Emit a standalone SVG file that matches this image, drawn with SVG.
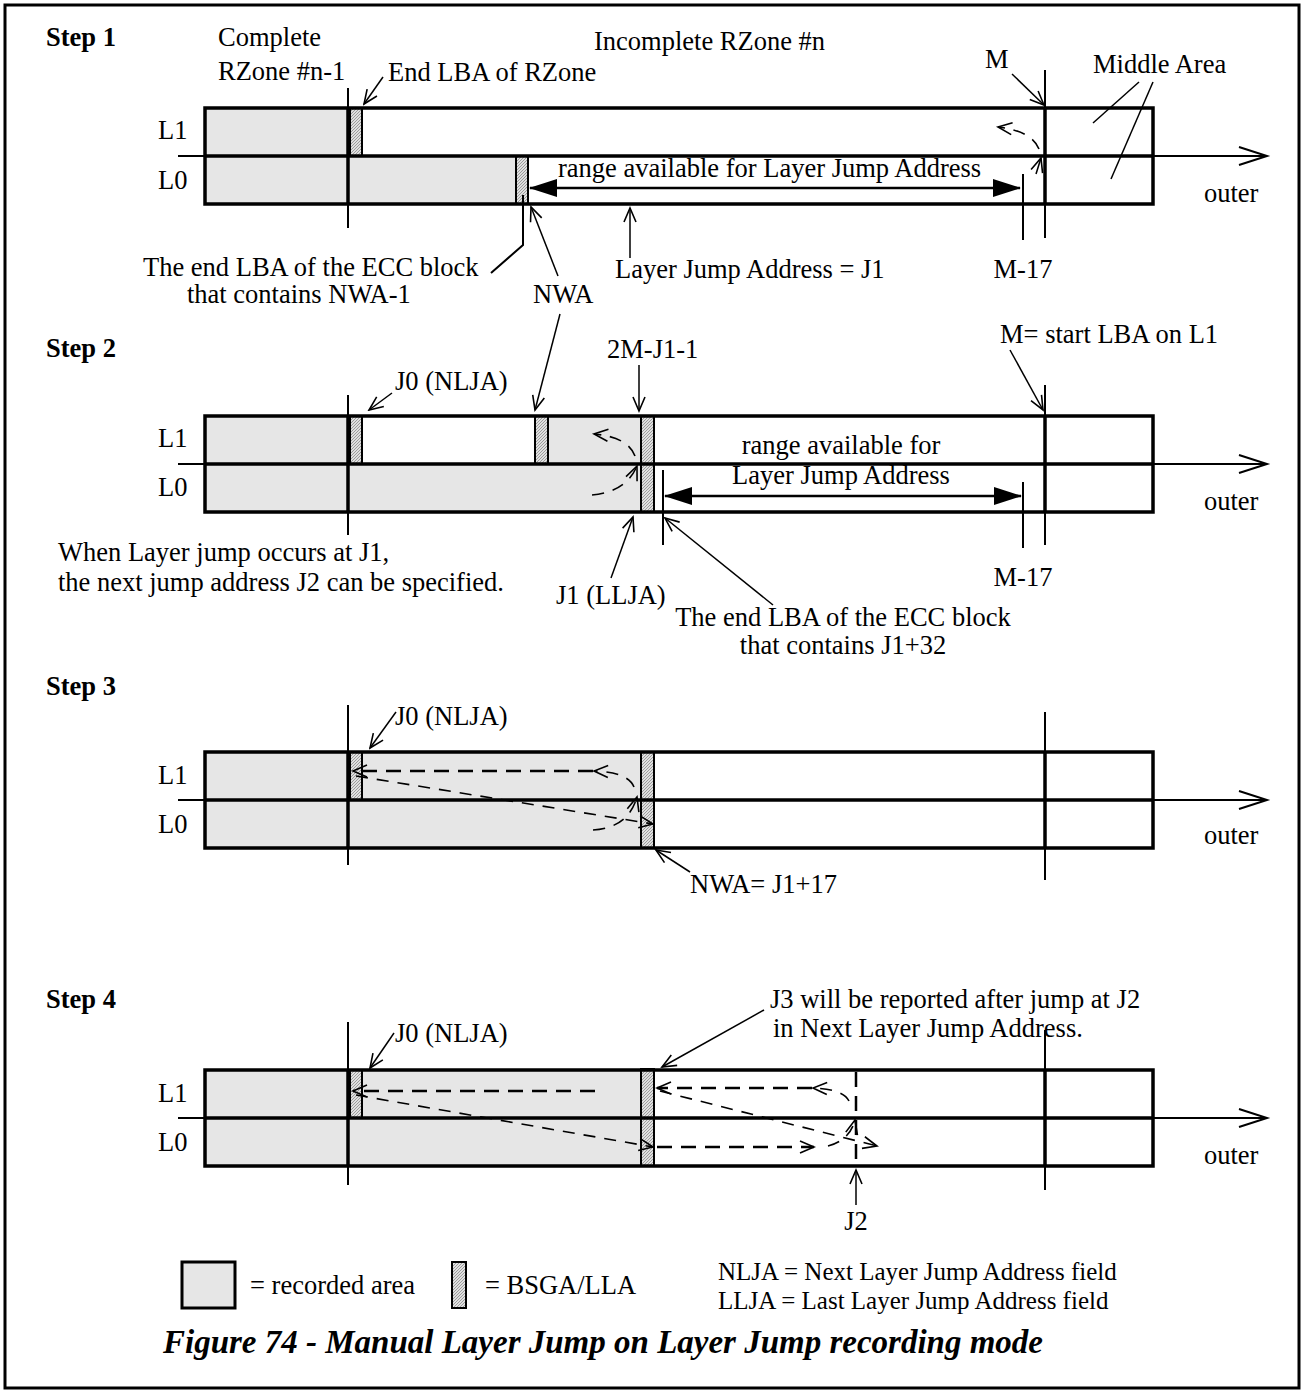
<svg xmlns="http://www.w3.org/2000/svg" width="1304" height="1393" viewBox="0 0 1304 1393">
<style>
.t{font-family:"Liberation Serif","Times New Roman",serif;font-size:26.5px;fill:#000}
.lg{font-size:25px}
.b{font-weight:bold}
.c{text-anchor:middle}
.title{font-family:"Liberation Serif","Times New Roman",serif;font-size:33px;font-weight:bold;font-style:italic;text-anchor:middle}
.grey{fill:#e6e6e6;stroke:none}
.hatch{fill:url(#hp);stroke:#000;stroke-width:2}
.box{fill:none;stroke:#000;stroke-width:3.5}
.thin{stroke:#000;stroke-width:2;fill:none}
.thick{stroke:#000;stroke-width:3.5;fill:none}
.lead{stroke:#000;stroke-width:1.5;fill:none}
.ar{marker-end:url(#oa)}
.dash{stroke:#000;stroke-width:1.6;fill:none;stroke-dasharray:12 9}
.dashb{stroke:#000;stroke-width:2.5;fill:none;stroke-dasharray:15 9}
.rng{stroke:#000;stroke-width:2.5;fill:none;marker-start:url(#fa);marker-end:url(#fa)}
</style>
<defs>
<pattern id="hp" patternUnits="userSpaceOnUse" width="3" height="3">
<rect width="3" height="3" fill="#e0e0e0"/>
<path d="M-1,1 L1,-1 M0,3 L3,0 M2,4 L4,2" stroke="#8a8a8a" stroke-width="0.8"/>
</pattern>
<marker id="oa" markerUnits="userSpaceOnUse" markerWidth="18" markerHeight="16" refX="16" refY="8" orient="auto" viewBox="0 0 18 16">
<path d="M2,2 L16,8 L2,14" fill="none" stroke="#000" stroke-width="1.6" stroke-dasharray="none"/>
</marker>
<marker id="fa" markerUnits="userSpaceOnUse" markerWidth="28" markerHeight="18" refX="27" refY="9" orient="auto-start-reverse" viewBox="0 0 28 18">
<path d="M0,0 L28,9 L0,18 z" fill="#000"/>
</marker>
</defs>
<rect x="5" y="5" width="1294" height="1383" fill="#fff" stroke="#000" stroke-width="3"/>

<!-- Step 1 -->
<g id="step1">
<text class="t b" x="46" y="46">Step 1</text>
<text class="t" x="218" y="46">Complete</text>
<text class="t" x="218" y="80">RZone #n-1</text>
<text class="t" x="594" y="50">Incomplete RZone #n</text>
<text class="t" x="388" y="81">End LBA of RZone</text>
<text class="t" x="985" y="68">M</text>
<text class="t" x="1093" y="73">Middle Area</text>
<text class="t" x="158" y="139">L1</text>
<text class="t" x="158" y="189">L0</text>
<text class="t" x="1204" y="202">outer</text>
<rect class="grey" x="205" y="108" width="145" height="48"/>
<rect class="grey" x="205" y="156" width="311" height="48"/>
<rect class="hatch" x="350" y="108" width="12" height="48"/>
<rect class="hatch" x="516" y="156" width="12" height="48"/>
<rect class="box" x="205" y="108" width="948" height="96"/>
<line class="thin" x1="178" y1="156" x2="1266" y2="156"/>
<line class="thick" x1="205" y1="156" x2="1153" y2="156"/>
<path class="thin" d="M1239,147 L1267,156 L1239,165"/>
<line class="thin" x1="348" y1="88" x2="348" y2="228"/>
<line class="thick" x1="348" y1="108" x2="348" y2="204"/>
<line class="thin" x1="1045" y1="70" x2="1045" y2="238"/>
<line class="thick" x1="1045" y1="108" x2="1045" y2="204"/>
<line class="thin" x1="1023" y1="174" x2="1023" y2="240"/>
<text class="t" x="558" y="177">range available for Layer Jump Address</text>
<text class="t" x="143" y="276">The end LBA of the ECC block</text>
<text class="t" x="187" y="303">that contains NWA-1</text>
<text class="t" x="615" y="278">Layer Jump Address = J1</text>
<text class="t c" x="1023" y="278">M-17</text>
<text class="t" x="533" y="303">NWA</text>
</g>

<!-- Step 2 -->
<g id="step2">
<text class="t b" x="46" y="357">Step 2</text>
<text class="t" x="1000" y="343">M= start LBA on L1</text>
<text class="t" x="607" y="358">2M-J1-1</text>
<text class="t" x="395" y="390">J0 (NLJA)</text>
<text class="t" x="158" y="447">L1</text>
<text class="t" x="158" y="496">L0</text>
<text class="t" x="1204" y="510">outer</text>
<rect class="grey" x="205" y="416" width="145" height="48"/>
<rect class="grey" x="548" y="416" width="93" height="48"/>
<rect class="grey" x="205" y="464" width="436" height="48"/>
<rect class="hatch" x="350" y="416" width="12" height="48"/>
<rect class="hatch" x="535" y="416" width="13" height="48"/>
<rect class="hatch" x="641" y="416" width="13" height="96"/>
<rect class="box" x="205" y="416" width="948" height="96"/>
<line class="thin" x1="178" y1="464" x2="1266" y2="464"/>
<line class="thick" x1="205" y1="464" x2="1153" y2="464"/>
<path class="thin" d="M1239,455 L1267,464 L1239,473"/>
<line class="thin" x1="348" y1="395" x2="348" y2="535"/>
<line class="thick" x1="348" y1="416" x2="348" y2="512"/>
<line class="thin" x1="1045" y1="385" x2="1045" y2="545"/>
<line class="thick" x1="1045" y1="416" x2="1045" y2="512"/>
<line class="thin" x1="1023" y1="482" x2="1023" y2="548"/>
<line class="thin" x1="663" y1="470" x2="663" y2="545"/>
<text class="t c" x="841" y="454">range available for</text>
<text class="t c" x="841" y="484">Layer Jump Address</text>
<text class="t" x="58" y="561">When Layer jump occurs at J1,</text>
<text class="t" x="58" y="591">the next jump address J2 can be specified.</text>
<text class="t" x="556" y="604">J1 (LLJA)</text>
<text class="t c" x="1023" y="586">M-17</text>
<text class="t c" x="843" y="626">The end LBA of the ECC block</text>
<text class="t c" x="843" y="654">that contains J1+32</text>
</g>

<!-- Step 3 -->
<g id="step3">
<text class="t b" x="46" y="695">Step 3</text>
<text class="t" x="395" y="725">J0 (NLJA)</text>
<text class="t" x="158" y="784">L1</text>
<text class="t" x="158" y="833">L0</text>
<text class="t" x="1204" y="844">outer</text>
<rect class="grey" x="205" y="752" width="436" height="96"/>
<rect class="hatch" x="350" y="752" width="12" height="48"/>
<rect class="hatch" x="641" y="752" width="13" height="96"/>
<rect class="box" x="205" y="752" width="948" height="96"/>
<line class="thin" x1="178" y1="800" x2="1266" y2="800"/>
<line class="thick" x1="205" y1="800" x2="1153" y2="800"/>
<path class="thin" d="M1239,791 L1267,800 L1239,809"/>
<line class="thin" x1="348" y1="705" x2="348" y2="865"/>
<line class="thick" x1="348" y1="752" x2="348" y2="848"/>
<line class="thin" x1="1045" y1="712" x2="1045" y2="880"/>
<line class="thick" x1="1045" y1="752" x2="1045" y2="848"/>
<text class="t" x="690" y="893">NWA= J1+17</text>
</g>

<!-- Step 4 -->
<g id="step4">
<text class="t b" x="46" y="1008">Step 4</text>
<text class="t" x="770" y="1008">J3 will be reported after jump at J2</text>
<text class="t" x="773" y="1037">in Next Layer Jump Address.</text>
<text class="t" x="395" y="1042">J0 (NLJA)</text>
<text class="t" x="158" y="1102">L1</text>
<text class="t" x="158" y="1151">L0</text>
<text class="t" x="1204" y="1164">outer</text>
<rect class="grey" x="205" y="1070" width="436" height="96"/>
<rect class="hatch" x="350" y="1070" width="12" height="48"/>
<rect class="hatch" x="641" y="1069" width="13" height="97"/>
<rect class="box" x="205" y="1070" width="948" height="96"/>
<line class="thin" x1="178" y1="1118" x2="1266" y2="1118"/>
<line class="thick" x1="205" y1="1118" x2="1153" y2="1118"/>
<path class="thin" d="M1239,1109 L1267,1118 L1239,1127"/>
<line class="thin" x1="348" y1="1022" x2="348" y2="1185"/>
<line class="thick" x1="348" y1="1070" x2="348" y2="1166"/>
<line class="thin" x1="1045" y1="1030" x2="1045" y2="1190"/>
<line class="thick" x1="1045" y1="1070" x2="1045" y2="1166"/>
<text class="t c" x="856" y="1230">J2</text>
</g>

<!-- Legend -->
<g id="legend">
<rect x="182" y="1262" width="53" height="46" fill="#e6e6e6" stroke="#000" stroke-width="3"/>
<text class="t" x="250" y="1294">= recorded area</text>
<rect class="hatch" x="452" y="1262" width="14" height="46"/>
<text class="t" x="485" y="1294">= BSGA/LLA</text>
<text class="t lg" x="718" y="1280">NLJA = Next Layer Jump Address field</text>
<text class="t lg" x="718" y="1309">LLJA = Last Layer Jump Address field</text>
</g>
<g id="caption">
<text class="title" x="603" y="1353">Figure 74 - Manual Layer Jump on Layer Jump recording mode</text>
</g>

<g id="connectors">
<!-- step 1 -->
<line class="lead ar" x1="383" y1="77" x2="364" y2="104"/>
<line class="lead ar" x1="1012" y1="74" x2="1044" y2="105"/>
<line class="lead" x1="1139" y1="82" x2="1093" y2="123"/>
<line class="lead" x1="1153" y1="82" x2="1111" y2="179"/>
<line class="rng" x1="530" y1="188" x2="1020" y2="188"/>
<polyline class="thin" points="491,273 523,245 523,195"/>
<line class="lead ar" x1="558" y1="276" x2="531" y2="207"/>
<line class="lead ar" x1="630" y1="258" x2="630" y2="208"/>
<line class="lead ar" x1="1036" y1="174" x2="1041" y2="158"/>
<path class="dash ar" d="M1039,149 Q1032,131 998,127"/>
<line class="lead ar" x1="560" y1="314" x2="535" y2="410"/>
<!-- step 2 -->
<line class="lead ar" x1="392" y1="393" x2="369" y2="410"/>
<line class="lead ar" x1="639" y1="365" x2="639" y2="411"/>
<line class="lead ar" x1="1010" y1="350" x2="1043" y2="410"/>
<line class="rng" x1="665" y1="496" x2="1021" y2="496"/>
<path class="dash ar" d="M592,495 Q626,492 637,466"/>
<path class="dash ar" d="M635,456 Q628,437 594,434"/>
<line class="lead ar" x1="611" y1="578" x2="633" y2="517"/>
<line class="lead ar" x1="773" y1="605" x2="665" y2="518"/>
<!-- step 3 -->
<line class="lead ar" x1="396" y1="712" x2="370" y2="748"/>
<path class="dash ar" d="M593,830 Q628,828 637,797"/>
<path class="dash ar" d="M634,787 Q628,772 594,771"/>
<line class="dashb ar" x1="593" y1="771" x2="353" y2="771"/>
<line class="dash ar" x1="356" y1="776" x2="653" y2="824"/>
<line class="lead ar" x1="690" y1="872" x2="656" y2="850"/>
<!-- step 4 -->
<line class="lead ar" x1="394" y1="1033" x2="370" y2="1068"/>
<line class="lead ar" x1="764" y1="1010" x2="662" y2="1067"/>
<line class="dashb ar" x1="595" y1="1091" x2="353" y2="1091"/>
<line class="dash ar" x1="356" y1="1095" x2="653" y2="1147"/>
<line class="dashb ar" x1="657" y1="1147" x2="814" y2="1147"/>
<path class="dash ar" d="M828,1146 Q850,1140 855,1120"/>
<path class="dash ar" d="M849,1101 Q843,1089 813,1088"/>
<line class="dashb ar" x1="812" y1="1088" x2="657" y2="1088"/>
<line class="dash ar" x1="660" y1="1091" x2="877" y2="1146"/>
<line class="dashb" x1="856" y1="1072" x2="856" y2="1168"/>
<line class="lead ar" x1="856" y1="1205" x2="856" y2="1170"/>
</g>
</svg>
